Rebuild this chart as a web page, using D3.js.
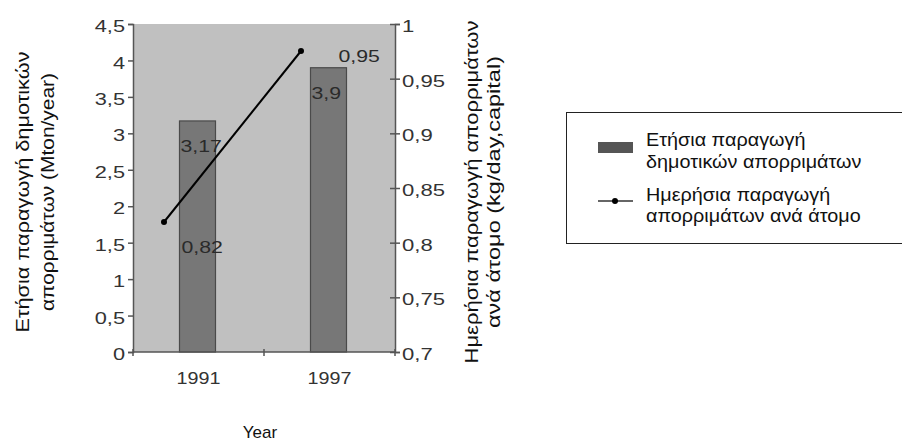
<!DOCTYPE html>
<html><head><meta charset="utf-8">
<script src="https://cdn.jsdelivr.net/npm/d3@7"></script>
<style>body{margin:0;background:#fff}svg{display:block;font-family:Arial,"Liberation Sans",sans-serif}</style>
</head><body><svg id="c" width="902" height="442"></svg>
<script>
const years = ["1991", "1997"];
const annualWaste = [3.17, 3.9];
const dailyWaste = [0.82, 0.95];
const leftTicks = [0, 0.5, 1, 1.5, 2, 2.5, 3, 3.5, 4, 4.5];
const rightTicks = [0.7, 0.75, 0.8, 0.85, 0.9, 0.95, 1];
const leftTitle = ["Ετήσια παραγωγή δημοτικών", "απορριμάτων (Mton/year)"];
const rightTitle = ["Ημερήσια παραγωγή απορριμάτων", "ανά άτομο (kg/day,capital)"];
const legendLabels = [["Ετήσια παραγωγή", "δημοτικών απορριμάτων"], ["Ημερήσια παραγωγή", "απορριμάτων ανά άτομο"]];
const xTitle = "Year";

const svg = d3.select("#c");
const L = 133, R = 395, T = 24, B = 352;
const fmt = v => String(v).replace(".", ",");
function stretch(sel, f) {
  sel.each(function () {
    const n = this.getComputedTextLength();
    d3.select(this).attr("textLength", n * f).attr("lengthAdjust", "spacingAndGlyphs");
  });
}

const x = d3.scaleBand().domain(years).range([L, R]).paddingInner(0).paddingOuter(0);
const yL = d3.scaleLinear().domain([0, 4.5]).range([B, T]);
const yR = d3.scaleLinear().domain([0.7, 1]).range([B, T]);
// the line series in the original is drawn on its own offset scales
const xLine = d3.scalePoint().domain(years).range([164, 301]);
const yLine = d3.scaleLinear().domain([0.82, 0.95]).range([222, 51]);

svg.append("rect").attr("x", L).attr("y", T).attr("width", R - L).attr("height", B - T).attr("fill", "#c0c0c0");

const bw = 36;
svg.selectAll(".bar").data(years).join("rect")
  .attr("x", d => x(d) + x.bandwidth() / 2 - bw / 2 - 1)
  .attr("y", (d, i) => yL(annualWaste[i]))
  .attr("width", bw).attr("height", (d, i) => B - yL(annualWaste[i]))
  .attr("fill", "#777").attr("stroke", "#4a4a4a").attr("stroke-width", 1.2);

// axes
const axL = svg.append("g").attr("transform", `translate(${L},0)`)
  .call(d3.axisLeft(yL).tickValues(leftTicks).tickFormat(fmt).tickSize(5).tickPadding(3));
const axR = svg.append("g").attr("transform", `translate(${R},0)`)
  .call(d3.axisRight(yR).tickValues(rightTicks).tickFormat(fmt).tickSize(5).tickPadding(2));
axR.selectAll(".tick line").attr("x1", -5);
const axB = svg.append("g").attr("transform", `translate(0,${B})`)
  .call(d3.axisBottom(x).tickSize(0).tickPadding(20));
[axL, axR, axB].forEach(g => {
  g.select(".domain").attr("stroke", "#555").attr("stroke-width", 1.5);
  g.selectAll(".tick line").attr("stroke", "#555").attr("stroke-width", 1.5);
  g.selectAll("text").attr("fill", "#333").attr("font-size", 17).attr("font-family", "Arial,'Liberation Sans',sans-serif");
});
axL.selectAll(".tick text").attr("dy", "0.45em");
axR.selectAll(".tick text").attr("dy", "0.45em");
stretch(axL.selectAll("text"), 1.28);
stretch(axR.selectAll("text"), 1.3);
stretch(axB.selectAll("text"), 1.16);
axB.select(".domain").attr("d", `M${L},0H${R}`);
// category separator ticks
svg.append("g").selectAll("line").data([L, x(years[1]), R]).join("line")
  .attr("x1", d => d).attr("x2", d => d).attr("y1", B - 3).attr("y2", B + 4)
  .attr("stroke", "#555").attr("stroke-width", 1.5);

// data labels
const lab = svg.append("g").attr("font-size", 17).attr("fill", "#2a2a2a");
years.forEach((d, i) => {
  const cx = x(d) + x.bandwidth() / 2;
  lab.append("text").attr("x", cx - 18).attr("y", yL(annualWaste[i]) + 31).text(fmt(annualWaste[i]));
});
lab.append("text").attr("x", x(years[0]) + x.bandwidth() / 2 - 17).attr("y", 253).text(fmt(dailyWaste[0]));
lab.append("text").attr("x", x(years[1]) + x.bandwidth() / 2 + 9).attr("y", 62).text(fmt(dailyWaste[1]));
stretch(lab.selectAll("text"), 1.25);

// line series
const lineData = years.map((d, i) => [xLine(d), yLine(dailyWaste[i])]);
svg.append("path").attr("d", d3.line()(lineData)).attr("fill", "none").attr("stroke", "#000").attr("stroke-width", 2);
svg.selectAll(".pt").data(lineData).join("circle").attr("cx", d => d[0]).attr("cy", d => d[1]).attr("r", 3).attr("fill", "#000");

// axis titles
const lt = svg.append("text").attr("transform", "translate(23,192) rotate(-90)").attr("text-anchor", "middle").attr("font-size", 18).attr("fill", "#111");
leftTitle.forEach((t, i) => lt.append("tspan").attr("x", 0).attr("y", i ? 25 : 0).attr("dominant-baseline", "central").text(t));
const ltT = [281, 238];
lt.selectAll("tspan").attr("textLength", (d, i) => ltT[i]).attr("lengthAdjust", "spacingAndGlyphs");
const rt = svg.append("text").attr("transform", "translate(472,192) rotate(-90)").attr("text-anchor", "middle").attr("font-size", 18).attr("fill", "#111");
rightTitle.forEach((t, i) => rt.append("tspan").attr("x", 0).attr("y", i ? 22 : 0).attr("dominant-baseline", "central").text(t));
const rtT = [343, 272];
rt.selectAll("tspan").attr("textLength", (d, i) => rtT[i]).attr("lengthAdjust", "spacingAndGlyphs");
svg.append("text").attr("x", 260).attr("y", 438).attr("text-anchor", "middle").attr("font-size", 17).attr("fill", "#111").text(xTitle);

// legend
const lg = svg.append("g");
lg.append("rect").attr("x", 566.5).attr("y", 112.5).attr("width", 340).attr("height", 131).attr("fill", "#fff").attr("stroke", "#222").attr("stroke-width", 1);
lg.append("rect").attr("x", 598).attr("y", 142).attr("width", 35).attr("height", 11).attr("fill", "#555");
lg.append("line").attr("x1", 598).attr("x2", 633).attr("y1", 201).attr("y2", 201).attr("stroke", "#333").attr("stroke-width", 1.5);
lg.append("circle").attr("cx", 615).attr("cy", 201).attr("r", 3).attr("fill", "#000");
const ly = [[146, 168], [201, 222]];
legendLabels.forEach((lines, i) => lines.forEach((t, j) =>
  lg.append("text").attr("class", "lt").attr("x", 646).attr("y", ly[i][j]).attr("font-size", 18).attr("fill", "#111").text(t)));
stretch(lg.selectAll(".lt"), 1.1);
</script></body></html>
